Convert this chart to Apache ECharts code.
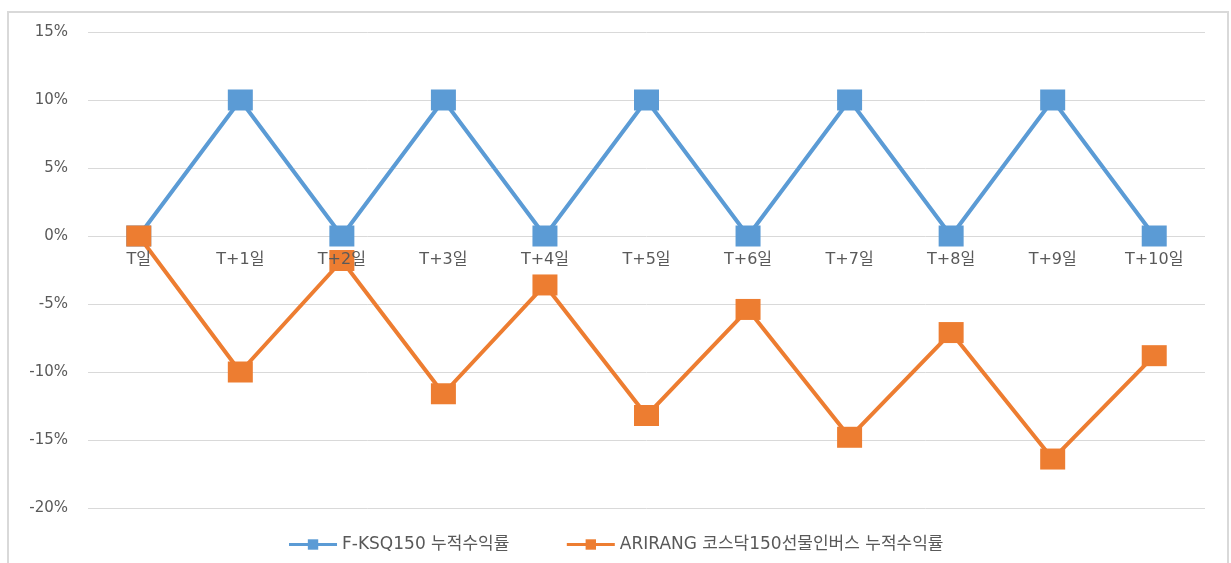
<!DOCTYPE html>
<html><head><meta charset="utf-8">
<script src="https://cdn.jsdelivr.net/npm/echarts@6/dist/echarts.min.js"></script>
<style>
html,body{margin:0;padding:0;background:#fff;}
#frame{position:absolute;left:7px;top:11px;width:1222px;height:600px;border:2px solid #d9d9d9;box-sizing:border-box;}
#c{position:absolute;left:0;top:0;width:1231px;height:563px;}
</style></head>
<body><div id="frame"></div><div id="c"></div>
<script>
const categories = ['T일','T+1일','T+2일','T+3일','T+4일','T+5일','T+6일','T+7일','T+8일','T+9일','T+10일'];
const seriesNames = ['F-KSQ150 누적수익률','ARIRANG 코스닥150선물인버스 누적수익률'];
const ksqValues = [0, 10, 0, 10, 0, 10, 0, 10, 0, 10, 0];
const inverseValues = [0, -10, -1.8, -11.6, -3.6, -13.2, -5.4, -14.8, -7.1, -16.4, -8.8];
const yTicks = {min: -20, max: 15, interval: 5};

const font = "'DejaVu Sans', 'Noto Sans CJK KR', sans-serif";
const chart = echarts.init(document.getElementById('c'));
chart.setOption({
  animation: false,
  textStyle: {fontFamily: font},
  grid: {left: 88, right: 26, top: 32, bottom: 55},
  xAxis: {
    type: 'category', data: categories, boundaryGap: true,
    position: 'bottom', offset: -272, z: 10,
    axisLine: {show: false, onZero: false},
    axisTick: {show: false},
    axisLabel: {color: '#595959', fontSize: 16, margin: 16, fontFamily: font}
  },
  yAxis: {
    type: 'value', min: yTicks.min, max: yTicks.max, interval: yTicks.interval,
    axisLine: {show: false}, axisTick: {show: false},
    splitLine: {lineStyle: {color: '#d9d9d9', width: 1}},
    axisLabel: {color: '#595959', fontSize: 15, margin: 20, formatter: v => v + '%', fontFamily: font}
  },
  legend: {
    bottom: 5, left: 'center', itemWidth: 48, itemHeight: 13, itemGap: 56,
    lineStyle: {width: 3},
    textStyle: {color: '#595959', fontSize: 17, fontFamily: font},
    data: seriesNames
  },
  series: [
    {name: seriesNames[0], type: 'line', data: ksqValues, symbol: 'rect', symbolSize: [25, 21],
     lineStyle: {color: '#5b9bd5', width: 4}, itemStyle: {color: '#5b9bd5'}, z: 2},
    {name: seriesNames[1], type: 'line', data: inverseValues, symbol: 'rect', symbolSize: [25, 21],
     lineStyle: {color: '#ed7d31', width: 4}, itemStyle: {color: '#ed7d31'}, z: 3}
  ]
});
</script></body></html>
